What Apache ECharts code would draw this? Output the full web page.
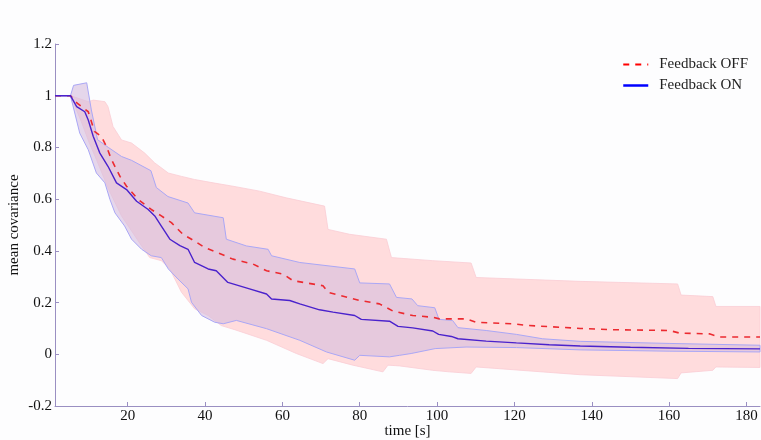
<!DOCTYPE html>
<html><head><meta charset="utf-8">
<script src="https://cdn.jsdelivr.net/npm/echarts@6/dist/echarts.min.js"></script>
<style>html,body{margin:0;padding:0;background:#fdfdfe}#c{width:761px;height:440px}</style>
</head><body><div id="c"></div>
<script>
// Feedback ON mean
const tOnMean = [1.2,5.2,6.8,8.9,9.8,11.1,12.8,14.9,17.1,19.7,22.3,25.3,27,28.7,30.9,33.5,35.6,37.3,40.8,42.9,45.9,51.5,55.9,57.2,61.9,64.5,69.6,73.1,78.7,80.4,87.7,89.9,93.7,98.9,100.4,103.7,105.4,112.7,120.5,129,137,150,165,183.5];
const onMean  = [1,1,0.958,0.938,0.906,0.842,0.778,0.727,0.663,0.637,0.592,0.56,0.535,0.496,0.445,0.42,0.406,0.355,0.33,0.323,0.278,0.253,0.233,0.214,0.208,0.195,0.172,0.163,0.15,0.135,0.128,0.108,0.102,0.09,0.077,0.069,0.06,0.051,0.044,0.037,0.032,0.027,0.023,0.021];
// Feedback OFF mean
const tOffMean = [1.2,5.2,7,9.8,11.4,13.2,14.5,15.8,18,19.7,22.7,26.1,28.7,31.3,34.3,37.3,39.9,43.3,47.2,52.4,55.9,60.2,62.7,70.5,71.8,80,85.1,88.6,93.7,99,100.6,107.5,110.1,119.6,123,137,145.4,160.1,162.7,170.4,173,183.5];
const offMean  = [1,1,0.97,0.938,0.862,0.842,0.804,0.753,0.688,0.65,0.599,0.56,0.535,0.509,0.464,0.438,0.413,0.393,0.368,0.349,0.323,0.31,0.285,0.265,0.24,0.208,0.195,0.167,0.15,0.143,0.137,0.137,0.124,0.118,0.112,0.1,0.095,0.092,0.082,0.079,0.067,0.067];
// Feedback ON band
const tOnUpper = [1.2,5.2,6,9.4,10.6,12.2,15,18.4,21,26,27.4,30.4,35.6,37.3,44.7,45.5,50.7,56.3,57.2,64.5,78.7,80,87.7,89.5,93.5,95,99.4,100.5,104,105.4,112.7,120.5,127.3,137,160,183.5];
const onUpper  = [1,1,1.04,1.05,0.945,0.83,0.8,0.765,0.75,0.71,0.645,0.61,0.585,0.547,0.528,0.445,0.419,0.406,0.381,0.355,0.33,0.276,0.272,0.22,0.214,0.188,0.18,0.135,0.131,0.103,0.092,0.077,0.06,0.05,0.042,0.035];
const tOnLower = [1.2,5.2,7.6,9.8,11.9,14.1,15.4,16.7,19.2,21,23.6,26.1,28.7,30.5,33,35.6,36.5,39.1,42.5,44.7,48.1,55.9,64.5,71.4,78.7,80,87.7,90.3,93.3,99.5,107.5,120.5,137,160,183.5];
const onLower  = [1,1,0.855,0.791,0.701,0.663,0.599,0.547,0.496,0.445,0.406,0.381,0.374,0.33,0.291,0.253,0.201,0.15,0.124,0.118,0.131,0.099,0.054,0.009,-0.023,-0.004,-0.01,-0.004,0.003,0.022,0.028,0.026,0.017,0.012,0.009];
// Feedback OFF band
const tOffUpper = [1.2,5.2,9.8,11.1,14.1,14.9,16.2,18.4,21,24.4,27,30.5,33.9,37.3,42.1,47.2,54.1,61,70.9,71.8,77.4,86.9,88.2,98.9,108.8,110.1,137,162.2,163.1,171.3,172.1,183.5];
const offUpper  = [1,1,0.977,0.983,0.977,0.958,0.881,0.829,0.817,0.778,0.74,0.701,0.688,0.676,0.663,0.65,0.631,0.605,0.573,0.483,0.464,0.445,0.374,0.362,0.353,0.297,0.282,0.272,0.229,0.223,0.185,0.185];
const tOffLower = [1.2,5.2,8,10,12,15,18.4,21,23.6,25.7,28.7,30.9,33.9,37.3,40.8,44.2,47.7,55.9,63.6,70.5,71.8,78.2,86,87.3,90.3,98.9,103.2,108.8,110.1,137,162.2,163.1,171.3,172.1,183.5];
const offLower  = [1,1,0.9,0.82,0.75,0.64,0.535,0.477,0.419,0.374,0.362,0.33,0.24,0.176,0.15,0.111,0.095,0.054,0.003,-0.036,-0.017,-0.042,-0.068,-0.042,-0.045,-0.062,-0.068,-0.074,-0.049,-0.079,-0.094,-0.072,-0.062,-0.049,-0.051];
// ticks
const xTicks = [20,40,60,80,100,120,140,160,180];
const seriesNames = ['Feedback OFF','Feedback ON'];

const zip = (t, v) => t.map((x, i) => [x, v[i]]);

function bandSeries(tU, vU, tL, vL, fill, stroke, z) {
  const upper = zip(tU, vU);
  const lower = zip(tL, vL).reverse();
  const poly = upper.concat(lower);
  return {
    type: 'custom', silent: true, z: z,
    data: poly,
    renderItem: function (params, api) {
      if (params.dataIndex !== 0) return null;
      const pts = poly.map(p => api.coord(p));
      return { type: 'polygon', shape: { points: pts },
        style: { fill: fill, stroke: stroke, lineWidth: 1 } };
    }
  };
}

const axisColor = '#9a8fc2';
const font = 'Liberation Serif';
const chart = echarts.init(document.getElementById('c'));
chart.setOption({
  backgroundColor: '#fdfdfe',
  animation: false,
  grid: { left: 55, right: 1, top: 44, bottom: 34, containLabel: false, outerBoundsMode: 'none' },
  legend: {
    orient: 'vertical', left: 617, top: 52, itemWidth: 25, itemHeight: 14, itemGap: 6,
    textStyle: { fontFamily: font, fontSize: 15, color: '#222', padding: [0, 0, 0, 6] },
    itemStyle: { opacity: 0 },
    data: [
      { name: seriesNames[0], itemStyle: { opacity: 0 }, lineStyle: { color: '#ff0000', width: 2, type: [6, 6] } },
      { name: seriesNames[1], itemStyle: { opacity: 0 }, lineStyle: { color: '#0000ff', width: 2.5, type: 'solid' } }
    ]
  },
  xAxis: {
    type: 'value', min: 1.2, max: 183.5,
    name: 'time [s]', nameLocation: 'middle', nameGap: 18, nameMoveOverlap: false,
    nameTextStyle: { fontFamily: font, fontSize: 15, color: '#111' },
    axisLine: { show: true, onZero: false, lineStyle: { color: axisColor } },
    axisTick: { show: true, inside: true, length: 4, customValues: xTicks, lineStyle: { color: axisColor } },
    axisLabel: { customValues: xTicks, fontFamily: font, fontSize: 15, color: '#111', margin: 3 },
    splitLine: { show: false }
  },
  yAxis: {
    type: 'value', min: -0.2, max: 1.2, interval: 0.2,
    name: 'mean covariance', nameLocation: 'middle', nameGap: 33, nameMoveOverlap: false,
    nameTextStyle: { fontFamily: font, fontSize: 15, color: '#111' },
    axisLine: { show: true, onZero: false, lineStyle: { color: axisColor } },
    axisTick: { show: true, inside: true, length: 4, lineStyle: { color: axisColor } },
    axisLabel: { fontFamily: font, fontSize: 15, color: '#111', margin: 3,
      formatter: v => String(Math.round(v * 10) / 10) },
    splitLine: { show: false }
  },
  series: [
    bandSeries(tOffUpper, offUpper, tOffLower, offLower, '#ffdcdd', 'rgba(250,205,212,0.8)', 1),
    bandSeries(tOnUpper, onUpper, tOnLower, onLower, 'rgba(214,188,222,0.6)', '#aaa7f6', 2),
    { name: seriesNames[0], type: 'line', data: zip(tOffMean, offMean), symbol: 'none', z: 3,
      itemStyle: { color: '#ff0000' },
      lineStyle: { color: '#ec2a30', width: 1.6, type: [6, 6] } },
    { name: seriesNames[1], type: 'line', data: zip(tOnMean, onMean), symbol: 'none', z: 4,
      itemStyle: { color: '#0000ff' },
      lineStyle: { color: '#4a22cc', width: 1.4 } }
  ]
});
</script></body></html>
